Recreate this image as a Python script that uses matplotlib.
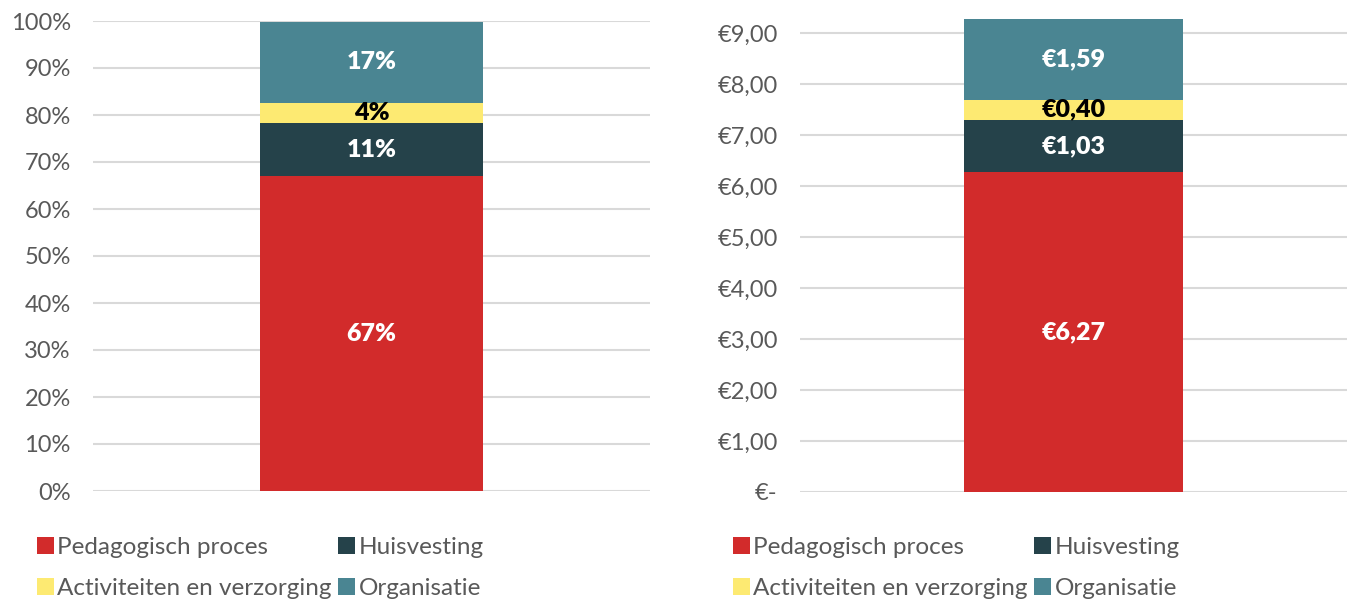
import matplotlib
matplotlib.use('Agg')
from matplotlib import pyplot as plt

categories = ['Pedagogisch proces', 'Huisvesting', 'Activiteiten en verzorging', 'Organisatie']
colors = ['#d22b2b', '#25424a', '#fdea72', '#4a8592']
label_colors = ['white', 'white', 'black', 'white']

pct_values = [67.0, 11.3, 4.3, 17.2]
pct_labels = ['67%', '11%', '4%', '17%']
eur_values = [6.27, 1.03, 0.40, 1.59]
eur_labels = ['€6,27', '€1,03', '€0,40', '€1,59']

pct_ticks = list(range(0, 101, 10))
pct_ticklabels = ['%d%%' % t for t in pct_ticks]
eur_ticks = list(range(0, 10))
eur_ticklabels = ['€-'] + ['€%d,00' % t for t in eur_ticks[1:]]

plt.rcParams['font.family'] = ['Lato', 'DejaVu Sans']

fig = plt.figure(figsize=(13.49, 6.03), dpi=100)
ax1 = fig.add_axes([93 / 1349, 1 - 491 / 603, 557 / 1349, 470 / 603])
ax2 = fig.add_axes([800 / 1349, 1 - 492 / 603, 547 / 1349, 474 / 603])


def stacked(ax, values, labels, ticks, ticklabels, ylim, w):
    bottom = 0
    handles = []
    for v, c, lab, lc, cat in zip(values, colors, labels, label_colors, categories):
        b = ax.bar(0, v, bottom=bottom, width=w, color=c, label=cat, zorder=3)
        handles.append(b)
        ax.text(0, bottom + v / 2, lab, ha='center', va='center', color=lc,
                fontsize=18, fontweight='heavy', zorder=4)
        bottom += v
    ax.set_xlim(-0.5, 0.5)
    ax.set_ylim(*ylim)
    ax.set_yticks(ticks)
    ax.set_yticklabels(ticklabels, fontsize=17, color='#595959')
    ax.set_xticks([])
    ax.grid(axis='y', color='#d9d9d9', linewidth=1.5, zorder=0)
    for s in ax.spines.values():
        s.set_visible(False)
    ax.tick_params(axis='y', length=0, pad=16)
    return handles


h1 = stacked(ax1, pct_values, pct_labels, pct_ticks, pct_ticklabels, (0, 100), 0.402)
h2 = stacked(ax2, eur_values, eur_labels, eur_ticks, eur_ticklabels, (0, 9.3), 0.40)

# legend fills column by column, so reorder to get the reference rows
order = [0, 2, 1, 3]
for h, x in [(h1, 27 / 1349), (h2, 723 / 1349)]:
    fig.legend(handles=[h[i] for i in order], labels=[categories[i] for i in order],
               loc='upper left', bbox_to_anchor=(x, 1 - 527 / 603), ncol=2,
               frameon=False, fontsize=17.5, labelcolor='#595959',
               handlelength=0.7, handleheight=0.7, handletextpad=0.15,
               columnspacing=0.25, labelspacing=0.85, borderaxespad=0)

fig.savefig('out.png', dpi=100)
